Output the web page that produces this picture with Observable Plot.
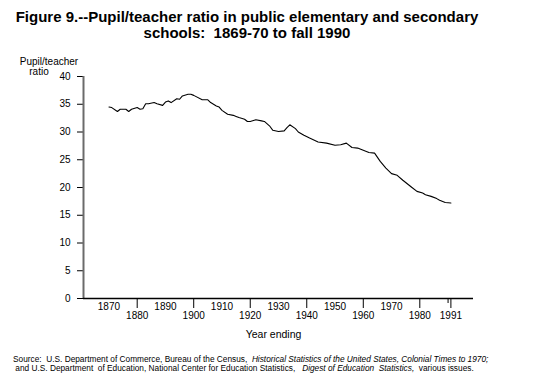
<!DOCTYPE html>
<html>
<head>
<meta charset="utf-8">
<script src="https://cdn.jsdelivr.net/npm/d3@7"></script>
<script src="https://cdn.jsdelivr.net/npm/@observablehq/plot@0.6"></script>
<style>
  body { margin: 0; width: 536px; height: 383px; background: #fff; font-family: "Liberation Sans", Arial, sans-serif; color: #000; overflow: hidden; }
  #title { width: 494px; height: 46px; box-sizing: border-box; padding-top: 8.5px; text-align: center; font-weight: bold; font-size: 15px; line-height: 16px; white-space: pre; }
  #chart svg { display: block; }
  #source { box-sizing: border-box; padding-top: 15.3px; padding-left: 13px; font-size: 8.3px; line-height: 9px; white-space: pre; }
</style>
</head>
<body>
<div id="title">Figure 9.--Pupil/teacher ratio in public elementary and secondary
schools:  1869-70 to fall 1990</div>
<div id="chart"></div>
<div id="source">Source:  U.S. Department of Commerce, Bureau of the Census,  <i>Historical Statistics of the United States, Colonial Times to 1970;</i>
 and U.S. Department  of Education, National Center for Education Statistics,   <i>Digest of Education  Statistics,</i>  various issues.</div>
<script>
const years = [1870,1871,1873,1874,1876,1877,1878,1880,1881,1882,1883,1884,1886,1887,1889,1890,1891,1892,1894,1895,1896,1898,1899,1900,1903,1905,1906,1908,1909,1910,1912,1914,1915,1916,1918,1919,1920,1922,1924,1925,1927,1928,1930,1932,1933,1934,1936,1937,1939,1941,1944,1947,1950,1952,1954,1956,1958,1960,1962,1964,1966,1968,1970,1972,1974,1976,1977,1979,1981,1982,1984,1986,1987,1989,1991];
const ratio = [34.5,34.4,33.7,34.1,34.1,33.7,34.1,34.4,34.1,34.2,35.1,35.1,35.3,35.1,34.8,35.4,35.6,35.3,36.0,35.9,36.5,36.8,36.8,36.6,35.8,35.8,35.3,34.7,34.5,33.9,33.2,33.0,32.8,32.6,32.3,31.9,31.9,32.2,32.0,31.9,31.0,30.3,30.1,30.2,30.8,31.3,30.6,30.0,29.4,28.9,28.2,28.0,27.6,27.7,28.0,27.2,27.1,26.7,26.3,26.2,24.7,23.5,22.5,22.2,21.3,20.5,20.1,19.3,19.0,18.7,18.4,18.0,17.7,17.3,17.2];
const yTicks = [0,5,10,15,20,25,30,35,40];
const xTickMarks = [1880,1900,1920,1940,1960,1980,1991];
const xShortTick = [1990];
const xUpperLabels = [1870,1890,1910,1930,1950,1970];
const xLowerLabels = [1880,1900,1920,1940,1960,1980,1991];
const xDomain = [1861, 1999];
const yDomain = [0, 40];
const xTitle = "Year ending";
const yTitleLine1 = "Pupil/teacher";
const yTitleLine2 = "ratio";

const data = years.map((y, i) => ({year: y, ratio: ratio[i]}));

const chart = Plot.plot({
  width: 536,
  height: 294,
  marginTop: 30,
  marginBottom: 42,
  marginLeft: 83,
  marginRight: 63,
  style: {fontFamily: "'Liberation Sans', Arial, sans-serif", fontSize: "10px", color: "#000", background: "#fff"},
  x: {domain: xDomain, label: null},
  y: {domain: yDomain, label: null},
  marks: [
    Plot.axisY(yTicks, {tickSize: 6, tickPadding: 7, fontSize: 10, label: null}),
    Plot.axisX(xTickMarks, {tickSize: 10, tickFormat: () => "", label: null}),
    Plot.axisX(xShortTick, {tickSize: 5, tickFormat: () => "", label: null}),
    Plot.axisX(xUpperLabels, {tickSize: 0, tickPadding: 4, fontSize: 10, tickFormat: d => String(d), label: null}),
    Plot.axisX(xLowerLabels, {tickSize: 0, tickPadding: 13, fontSize: 10, tickFormat: d => String(d), label: null}),
    Plot.ruleX([xDomain[0]], {stroke: "#6b6b6b", strokeWidth: 2}),
    Plot.ruleY([0], {stroke: "#000", strokeWidth: 1.5}),
    Plot.text([yTitleLine1], {frameAnchor: "top-left", dx: -34.5, dy: -12, lineAnchor: "bottom", textAnchor: "middle", fontSize: 10}),
    Plot.text([yTitleLine2], {frameAnchor: "top-left", dx: -44.5, dy: -2, lineAnchor: "bottom", textAnchor: "middle", fontSize: 10}),
    Plot.text([xTitle], {frameAnchor: "bottom", dx: -5, dy: 39, fontSize: 10.5}),
    Plot.line(data, {x: "year", y: "ratio", stroke: "#000", strokeWidth: 1.1})
  ]
});
document.getElementById("chart").appendChild(chart);
</script>
</body>
</html>
